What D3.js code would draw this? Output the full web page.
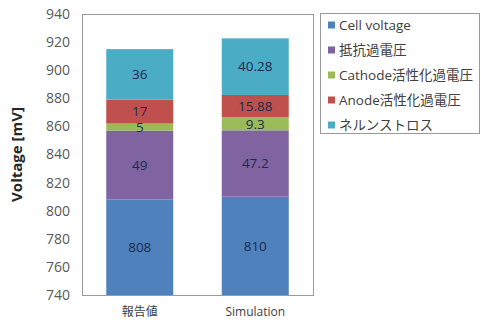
<!DOCTYPE html>
<html>
<head>
<meta charset="utf-8">
<script src="https://cdn.jsdelivr.net/npm/d3@7"></script>
<style>
  html, body { margin: 0; padding: 0; background: #fff; }
  svg { display: block; font-family: "Open Sans", "Noto Sans CJK JP", sans-serif; }
</style>
</head>
<body>
<svg id="chart" width="481" height="326"></svg>
<script>
// Categories along the x axis
const categories = ["報告値", "Simulation"];
// Stack components, bottom to top
const seriesNames = ["Cell voltage", "抵抗過電圧", "Cathode活性化過電圧", "Anode活性化過電圧", "ネルンストロス"];
const seriesColors = ["#4F81BD", "#8064A2", "#9BBB59", "#C0504D", "#4BACC6"];
const cellVoltage = [808, 810];
const resistiveLoss = [49, 47.2];
const cathodeLoss = [5, 9.3];
const anodeLoss = [17, 15.88];
const nernstLoss = [36, 40.28];
const yTicks = [740, 760, 780, 800, 820, 840, 860, 880, 900, 920, 940];

const seriesValues = [cellVoltage, resistiveLoss, cathodeLoss, anodeLoss, nernstLoss];
const rows = categories.map((c, i) => {
  const r = { category: c };
  seriesNames.forEach((s, k) => { r[s] = seriesValues[k][i]; });
  return r;
});

const svg = d3.select("#chart");
const plot = { left: 82, right: 313, top: 14, bottom: 295 };

const x = d3.scaleBand().domain(categories).range([plot.left, plot.right]).paddingInner(0.42).paddingOuter(0.21);
const y = d3.scaleLinear().domain([740, 940]).range([plot.bottom, plot.top]);

const stacked = d3.stack().keys(seriesNames)(rows);

svg.append("defs").append("clipPath").attr("id", "plotClip")
  .append("rect")
  .attr("x", plot.left).attr("y", plot.top)
  .attr("width", plot.right - plot.left).attr("height", plot.bottom - plot.top);

// Plot frame
svg.append("rect")
  .attr("x", plot.left + 0.5).attr("y", plot.top + 0.5)
  .attr("width", plot.right - plot.left).attr("height", plot.bottom - plot.top)
  .attr("fill", "none").attr("stroke", "#9a9a9a").attr("stroke-width", 1);

// Y axis labels
const yAxis = d3.axisLeft(y).tickValues(yTicks).tickSize(0).tickPadding(12);
const gy = svg.append("g").attr("transform", `translate(${plot.left},0)`).call(yAxis);
gy.select(".domain").remove();
gy.selectAll("text").attr("fill", "#595959").style("font-size", "14px")
  .style("font-family", "'Open Sans', sans-serif");

// X axis labels
const xAxis = d3.axisBottom(x).tickSize(0).tickPadding(12);
const gx = svg.append("g").attr("transform", `translate(0,${plot.bottom})`).call(xAxis);
gx.select(".domain").remove();
gx.selectAll("text").attr("fill", "#404040").style("font-size", "12px")
  .style("font-family", "'Open Sans', 'Noto Sans CJK JP', sans-serif");

// Y axis title
svg.append("text")
  .attr("transform", `translate(22,${(plot.top + plot.bottom) / 2}) rotate(-90)`)
  .attr("text-anchor", "middle")
  .attr("fill", "#262626")
  .style("font-size", "15px").style("font-weight", "bold")
  .text("Voltage [mV]");

// Stacked bars
const layers = svg.append("g").attr("clip-path", "url(#plotClip)")
  .selectAll("g").data(stacked).join("g")
  .attr("fill", (d, i) => seriesColors[i]);

layers.selectAll("rect").data(d => d).join("rect")
  .attr("x", d => x(d.data.category))
  .attr("width", x.bandwidth())
  .attr("y", d => y(d[1]))
  .attr("height", d => y(d[0]) - y(d[1]));

// Segment value labels, centred in the visible part of each segment
const labels = svg.append("g");
stacked.forEach(layer => {
  layer.forEach(d => {
    const lo = Math.max(d[0], 740);
    labels.append("text")
      .attr("x", x(d.data.category) + x.bandwidth() / 2)
      .attr("y", y((lo + d[1]) / 2))
      .attr("dy", "0.35em")
      .attr("text-anchor", "middle")
      .attr("fill", "#1c2b4a")
      .style("font-size", "13.5px")
      .text(d.data[layer.key]);
  });
});

// Legend
const legend = { x: 320, y: 13, w: 160, h: 120 };
svg.append("rect")
  .attr("x", legend.x + 0.5).attr("y", legend.y + 0.5)
  .attr("width", legend.w - 1).attr("height", legend.h)
  .attr("fill", "#fff").attr("stroke", "#9a9a9a");

const items = svg.append("g").selectAll("g").data(seriesNames).join("g")
  .attr("transform", (d, i) => `translate(${legend.x + 8},${legend.y + 12 + i * 25})`);
items.append("rect").attr("x", 0).attr("y", -3.5).attr("width", 7).attr("height", 7)
  .attr("fill", (d, i) => seriesColors[i]);
items.append("text").attr("x", 11).attr("dy", "0.35em")
  .attr("fill", "#404040").style("font-size", "13.5px")
  .style("font-family", "'Open Sans', 'Noto Sans CJK JP', sans-serif")
  .text(d => d);
</script>
</body>
</html>
